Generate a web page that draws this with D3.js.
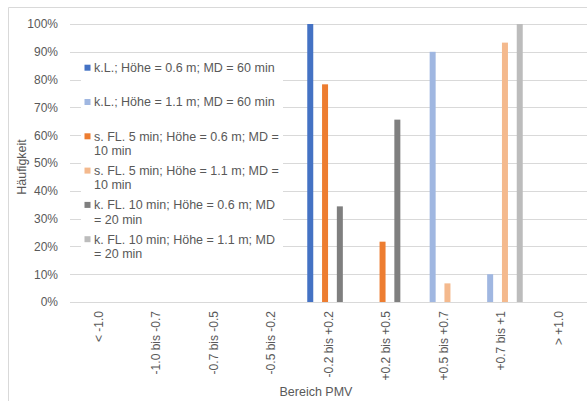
<!DOCTYPE html>
<html>
<head>
<meta charset="utf-8">
<script src="https://cdn.jsdelivr.net/npm/d3@7/dist/d3.min.js"></script>
<style>
  html, body { margin: 0; padding: 0; background: #fff; }
  svg { display: block; font-family: "Liberation Sans", Arial, sans-serif; }
</style>
</head>
<body>
<svg id="chart" width="587" height="401"></svg>
<script>
// PMV ranges on the x axis
const categories = ["< -1.0", "-1.0 bis -0.7", "-0.7 bis -0.5", "-0.5 bis -0.2",
  "-0.2 bis +0.2", "+0.2 bis +0.5", "+0.5 bis +0.7", "+0.7 bis +1", "> +1.0"];

const seriesNames = [
  "k.L.; Höhe = 0.6 m; MD = 60 min",
  "k.L.; Höhe = 1.1 m; MD = 60 min",
  "s. FL. 5 min; Höhe = 0.6 m; MD = 10 min",
  "s. FL. 5 min; Höhe = 1.1 m; MD = 10 min",
  "k. FL. 10 min; Höhe = 0.6 m; MD = 20 min",
  "k. FL. 10 min; Höhe = 1.1 m; MD = 20 min"
];

// Frequency (%) per PMV range, one array per series
const klLow    = [0, 0, 0, 0, 100, 0, 0, 0, 0];
const klHigh   = [0, 0, 0, 0, 0, 0, 90, 10, 0];
const sflLow   = [0, 0, 0, 0, 78.3, 21.7, 0, 0, 0];
const sflHigh  = [0, 0, 0, 0, 0, 0, 6.7, 93.3, 0];
const kflLow   = [0, 0, 0, 0, 34.4, 65.6, 0, 0, 0];
const kflHigh  = [0, 0, 0, 0, 0, 0, 0, 100, 0];
const seriesValues = [klLow, klHigh, sflLow, sflHigh, kflLow, kflHigh];

const seriesColors = ["#4472C4", "#A0B7E1", "#ED7D31", "#F4B98D", "#7F7F7F", "#BCBCBC"];

const yTicks = [0, 10, 20, 30, 40, 50, 60, 70, 80, 90, 100];

const svg = d3.select("#chart");
const textColor = "#595959";
const gridColor = "#D9D9D9";

// chart frame (top and left edges)
svg.append("line").attr("x1", 8.5).attr("x2", 8.5).attr("y1", 7.5).attr("y2", 401)
  .attr("stroke", "#D9D9D9").attr("stroke-width", 1);
svg.append("line").attr("x1", 8.5).attr("x2", 587).attr("y1", 7.5).attr("y2", 7.5)
  .attr("stroke", "#D9D9D9").attr("stroke-width", 1);

const plot = { left: 70, right: 587.5, top: 24, bottom: 302 };

const x = d3.scaleBand().domain(d3.range(categories.length))
  .range([plot.left, plot.right]).paddingInner(0.228).paddingOuter(0.114);
const xs = d3.scaleBand().domain(d3.range(seriesNames.length))
  .range([0, x.bandwidth()]).padding(0);
const y = d3.scaleLinear().domain([0, 100]).range([plot.bottom, plot.top]);

// horizontal gridlines
svg.append("g").selectAll("line").data(yTicks).join("line")
  .attr("x1", plot.left).attr("x2", 587)
  .attr("y1", d => Math.round(y(d)) + 0.5).attr("y2", d => Math.round(y(d)) + 0.5)
  .attr("stroke", gridColor).attr("stroke-width", 1);

// y axis labels
const yAxis = d3.axisLeft(y).tickValues(yTicks).tickFormat(d => d + "%").tickSize(0).tickPadding(0);
const gy = svg.append("g").attr("transform", "translate(58,0)").call(yAxis);
gy.select(".domain").remove();
gy.selectAll("text").attr("fill", textColor).attr("font-size", 12)
  .attr("font-family", "Liberation Sans, Arial, sans-serif");

// bars
const groups = svg.append("g").selectAll("g").data(seriesValues).join("g")
  .attr("fill", (d, i) => seriesColors[i]);
groups.each(function (vals, si) {
  d3.select(this).selectAll("rect").data(vals.map((v, ci) => ({ v, ci })).filter(d => d.v > 0))
    .join("rect")
    .attr("x", d => x(d.ci) + xs(si) + 0.7)
    .attr("width", xs.bandwidth() - 1.4)
    .attr("y", d => y(d.v))
    .attr("height", d => y(0) - y(d.v));
});

// x axis labels, rotated
const xAxis = d3.axisBottom(x).tickFormat(i => categories[i]).tickSize(0).tickPadding(0);
const gx = svg.append("g").attr("transform", `translate(0,${plot.bottom})`).call(xAxis);
gx.select(".domain").remove();
gx.selectAll("text")
  .attr("fill", textColor).attr("font-size", 12)
  .attr("font-family", "Liberation Sans, Arial, sans-serif")
  .attr("transform", "rotate(-90)")
  .attr("text-anchor", "end")
  .attr("x", -9).attr("y", 0).attr("dy", "0.35em");

// axis titles
svg.append("text").attr("transform", "translate(26,167) rotate(-90)")
  .attr("text-anchor", "middle").attr("fill", textColor).attr("font-size", 12.5)
  .text("Häufigkeit");
svg.append("text").attr("x", 316).attr("y", 396)
  .attr("text-anchor", "middle").attr("fill", textColor).attr("font-size", 12.5)
  .text("Bereich PMV");

// legend
const legendFont = 12.5;
const legend = svg.append("g");
legend.append("rect").attr("x", 81).attr("y", 56).attr("width", 202).attr("height", 206)
  .attr("fill", "#fff");
const wrapWidth = 188.5;
const measure = svg.append("text").attr("font-size", legendFont).attr("visibility", "hidden");
function wrap(str) {
  const words = str.split(" ");
  const lines = [];
  let line = "";
  for (const w of words) {
    const test = line ? line + " " + w : w;
    measure.text(test);
    if (line && measure.node().getComputedTextLength() > wrapWidth) {
      lines.push(line);
      line = w;
    } else line = test;
  }
  lines.push(line);
  return lines;
}
const legendStep = 34.3;
seriesNames.forEach((name, i) => {
  const cy = 67.7 + i * legendStep;
  legend.append("rect").attr("x", 84.5).attr("y", cy - 3).attr("width", 6).attr("height", 6)
    .attr("fill", seriesColors[i]);
  const t = legend.append("text").attr("x", 94).attr("y", cy)
    .attr("fill", textColor).attr("font-size", legendFont);
  wrap(name).forEach((ln, k) => {
    t.append("tspan").attr("x", 94).attr("dy", k === 0 ? "0.35em" : 14.3).text(ln);
  });
});
measure.remove();
</script>
</body>
</html>
